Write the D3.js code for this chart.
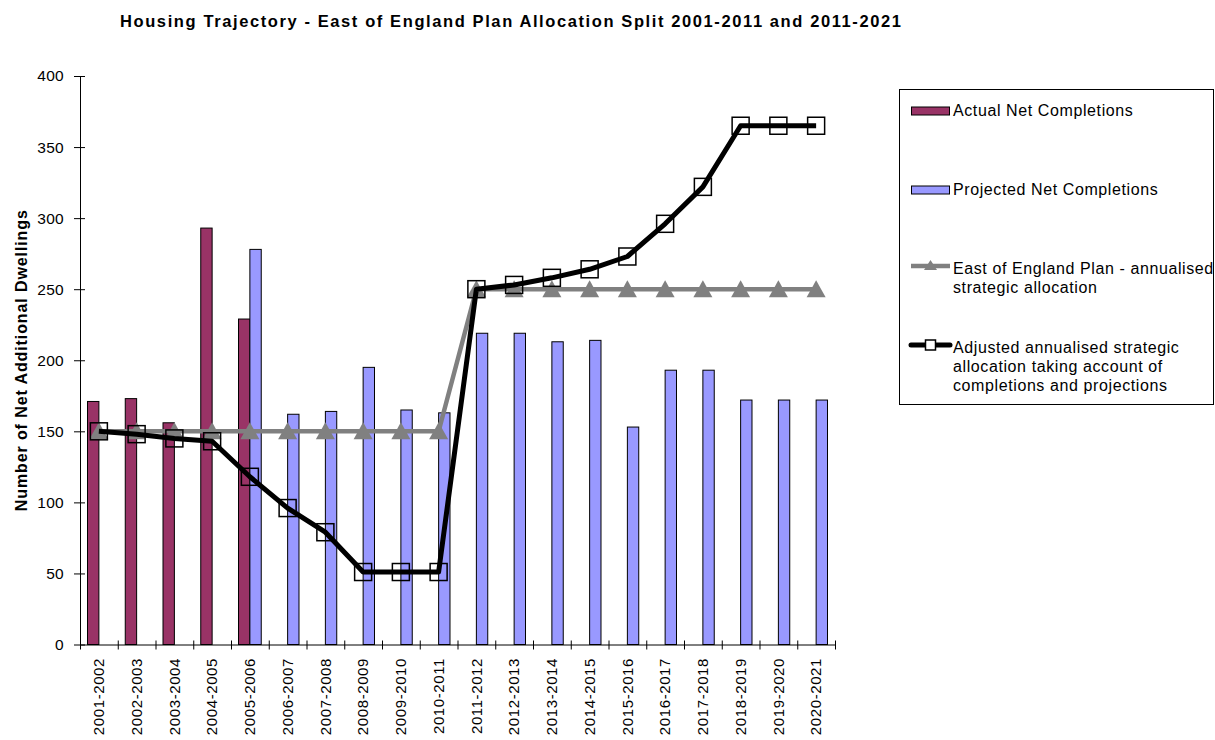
<!DOCTYPE html>
<html>
<head>
<meta charset="utf-8">
<script src="https://cdn.jsdelivr.net/npm/d3@7"></script>
<style>
    body { margin: 0; background: #fff; }
    svg { font-family: "Liberation Sans", Arial, sans-serif; }
</style>
</head>
<body>
<div id="chart"></div>
<script>
const WIDTH = 1215;
const HEIGHT = 740;
const PLOT_LEFT = 80;
const PLOT_RIGHT = 835;
const PLOT_TOP = 76;
const PLOT_BOTTOM = 644.5;

const TITLE = "Housing Trajectory - East of England Plan Allocation Split 2001-2011 and 2011-2021";
const Y_TITLE = "Number of Net Additional Dwellings";

const years = ["2001-2002", "2002-2003", "2003-2004", "2004-2005", "2005-2006",
    "2006-2007", "2007-2008", "2008-2009", "2009-2010", "2010-2011",
    "2011-2012", "2012-2013", "2013-2014", "2014-2015", "2015-2016",
    "2016-2017", "2017-2018", "2018-2019", "2019-2020", "2020-2021"];

const actualCompletions = [171, 173, 156, 293, 229, null, null, null, null, null,
    null, null, null, null, null, null, null, null, null, null];
const projectedCompletions = [null, null, null, null, 278, 162, 164, 195, 165, 163,
    219, 219, 213, 214, 153, 193, 193, 172, 172, 172];
const planAllocation = [150, 150, 150, 150, 150, 150, 150, 150, 150, 150,
    250, 250, 250, 250, 250, 250, 250, 250, 250, 250];
const adjustedAllocation = [150, 148, 145, 143, 118, 96, 79, 51, 51, 51,
    250, 253, 258, 264, 273, 296, 322, 365, 365, 365];

const yTicks = [0, 50, 100, 150, 200, 250, 300, 350, 400];

const legendItems = [
    { type: "bar", color: "#993366", lines: ["Actual Net Completions"] },
    { type: "bar", color: "#9999FF", lines: ["Projected Net Completions"] },
    { type: "plan", lines: ["East of England Plan - annualised", "strategic allocation"] },
    { type: "adjusted", lines: ["Adjusted annualised strategic", "allocation taking account of", "completions and projections"] }
];

const svg = d3.select("#chart")
    .append("svg")
    .attr("width", WIDTH)
    .attr("height", HEIGHT);

// scales
const x = d3.scaleBand()
    .domain(years)
    .range([PLOT_LEFT, PLOT_RIGHT]);

const xEdges = d3.scaleLinear()
    .domain([0, years.length])
    .range([PLOT_LEFT, PLOT_RIGHT]);

const xSub = d3.scaleBand()
    .domain(["actual", "projected"])
    .range([0, x.bandwidth()])
    .paddingOuter(0.66);

const y = d3.scaleLinear()
    .domain([0, 400])
    .range([PLOT_BOTTOM, PLOT_TOP]);

// title
svg.append("text")
    .attr("x", 120)
    .attr("y", 27)
    .attr("font-size", "16.5px")
    .attr("font-weight", "bold")
    .attr("letter-spacing", "1.6px")
    .text(TITLE);

// bars
const gbars = svg.append("g").attr("class", "bars");
const barSeries = [
    { key: "actual", values: actualCompletions, color: "#993366" },
    { key: "projected", values: projectedCompletions, color: "#9999FF" }
];
barSeries.forEach(s => {
    gbars.selectAll("rect." + s.key)
        .data(years.map((yr, i) => ({ yr, v: s.values[i] })).filter(d => d.v != null))
        .join("rect")
        .attr("class", s.key)
        .attr("x", d => x(d.yr) + xSub(s.key))
        .attr("y", d => y(d.v))
        .attr("width", xSub.bandwidth())
        .attr("height", d => y(0) - y(d.v))
        .attr("fill", s.color)
        .attr("stroke", "#000")
        .attr("stroke-width", 1);
});

// axes
const yAxis = d3.axisLeft(y)
    .tickValues(yTicks)
    .tickSizeInner(6)
    .tickSizeOuter(0)
    .tickPadding(10);

const gy = svg.append("g")
    .attr("class", "axis axis-y")
    .attr("transform", "translate(" + PLOT_LEFT + ",0)")
    .call(yAxis);
gy.selectAll(".tick line").attr("x1", 5);
gy.selectAll("text")
    .attr("font-size", "15.5px")
    .attr("letter-spacing", "0.3px")
    .attr("font-family", "Liberation Sans, Arial, sans-serif")
    .attr("fill", "#000");

const xTickAxis = d3.axisBottom(xEdges)
    .tickValues(d3.range(years.length + 1))
    .tickSizeInner(5)
    .tickSizeOuter(0)
    .tickFormat("");

const gx = svg.append("g")
    .attr("class", "axis axis-x")
    .attr("transform", "translate(0," + PLOT_BOTTOM + ")")
    .call(xTickAxis);
gx.selectAll(".tick line").attr("y1", -4);

const xLabelAxis = d3.axisBottom(x).tickSize(0).tickPadding(0);
const gxl = svg.append("g")
    .attr("class", "axis axis-x-labels")
    .attr("transform", "translate(0," + PLOT_BOTTOM + ")")
    .call(xLabelAxis);
gxl.select(".domain").remove();
gxl.selectAll("text")
    .attr("font-size", "15px")
    .attr("letter-spacing", "0.6px")
    .attr("font-family", "Liberation Sans, Arial, sans-serif")
    .attr("fill", "#000")
    .attr("text-anchor", "end")
    .attr("transform", "rotate(-90)")
    .attr("x", -13.5)
    .attr("y", 0)
    .attr("dy", "0.35em");

svg.selectAll(".axis .domain, .axis line").attr("stroke", "#000");

// y title
svg.append("text")
    .attr("transform", "translate(21," + ((PLOT_TOP + PLOT_BOTTOM) / 2) + ") rotate(-90)")
    .attr("text-anchor", "middle")
    .attr("dy", "0.35em")
    .attr("font-size", "16px")
    .attr("font-weight", "bold")
    .attr("letter-spacing", "0.9px")
    .text(Y_TITLE);

// lines
const line = d3.line()
    .x((d, i) => x(years[i]) + x.bandwidth() / 2)
    .y(d => y(d));

const triangle = "M0,-9L9.5,8L-9.5,8Z";

const gplan = svg.append("g").attr("class", "plan");
gplan.append("path")
    .datum(planAllocation)
    .attr("d", line)
    .attr("fill", "none")
    .attr("stroke", "#808080")
    .attr("stroke-width", 4.5);
gplan.selectAll("path.marker")
    .data(planAllocation)
    .join("path")
    .attr("class", "marker")
    .attr("d", triangle)
    .attr("transform", (d, i) => "translate(" + (x(years[i]) + x.bandwidth() / 2) + "," + y(d) + ")")
    .attr("fill", "#808080");

const gadj = svg.append("g").attr("class", "adjusted");
gadj.append("path")
    .datum(adjustedAllocation)
    .attr("d", line)
    .attr("fill", "none")
    .attr("stroke", "#000")
    .attr("stroke-width", 5)
    .attr("stroke-linejoin", "round");
gadj.selectAll("rect.marker")
    .data(adjustedAllocation)
    .join("rect")
    .attr("class", "marker")
    .attr("x", (d, i) => x(years[i]) + x.bandwidth() / 2 - 8.5)
    .attr("y", d => y(d) - 8.5)
    .attr("width", 17)
    .attr("height", 17)
    .attr("fill", "none")
    .attr("stroke", "#000")
    .attr("stroke-width", 1.5);

// legend
const legend = svg.append("g").attr("class", "legend");
legend.append("rect")
    .attr("x", 899.5)
    .attr("y", 89.5)
    .attr("width", 314)
    .attr("height", 315)
    .attr("fill", "#fff")
    .attr("stroke", "#000");

const legendTop = [110.5, 189.5, 266, 345];
const LINE_H = 19;
legendItems.forEach((item, k) => {
    const g = legend.append("g").attr("transform", "translate(911," + legendTop[k] + ")");
    if (item.type === "bar") {
        g.append("rect")
            .attr("x", 0.5).attr("y", -3.5)
            .attr("width", 38).attr("height", 8)
            .attr("fill", item.color)
            .attr("stroke", "#000");
    } else if (item.type === "plan") {
        g.append("line")
            .attr("x1", 0).attr("x2", 39)
            .attr("stroke", "#808080").attr("stroke-width", 4.5);
        g.append("path")
            .attr("d", "M0,-6L6.5,4L-6.5,4Z")
            .attr("transform", "translate(19.5,0)")
            .attr("fill", "#808080");
    } else {
        g.append("line")
            .attr("x1", 0).attr("x2", 39)
            .attr("stroke", "#000").attr("stroke-width", 5)
            .attr("stroke-linecap", "round");
        g.append("rect")
            .attr("x", 14.5).attr("y", -5)
            .attr("width", 10).attr("height", 10)
            .attr("fill", "#fff")
            .attr("stroke", "#000").attr("stroke-width", 1.5);
    }
    const txt = g.append("text")
        .attr("x", 42)
        .attr("y", item.type === "bar" ? 5.8 : 8.3)
        .attr("font-size", "16px")
        .attr("letter-spacing", "0.6px");
    item.lines.forEach((l, j) => {
        txt.append("tspan")
            .attr("x", 42)
            .attr("dy", j === 0 ? 0 : LINE_H)
            .text(l);
    });
});
</script>
</body>
</html>
